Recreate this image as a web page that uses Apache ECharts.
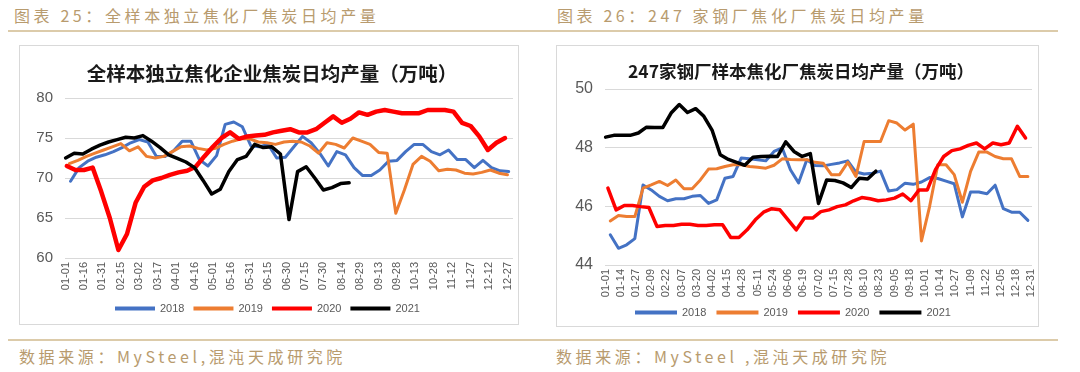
<!DOCTYPE html>
<html>
<head>
<meta charset="utf-8">
<script src="https://cdn.jsdelivr.net/npm/echarts@6/dist/echarts.min.js"></script>
<style>
  html, body { margin: 0; padding: 0; background: #fff; }
  #page { position: relative; width: 1080px; height: 372px; overflow: hidden; }
  .cap { position: absolute; font-family: "Noto Sans CJK SC", sans-serif; color: #B89B6E; font-size: 16px; letter-spacing: 3.6px; white-space: nowrap; line-height: 20px; }
  .rule { position: absolute; height: 2px; background: #DCCBAA; }
  .box { position: absolute; border: 1px solid #D9D9D9; box-sizing: border-box; background: #fff; }
  #chart { position: absolute; left: 0; top: 0; width: 1080px; height: 372px; }
</style>
</head>
<body>
<div id="page">
  <div class="cap" style="left:14px;top:5px;">图表 25：全样本独立焦化厂焦炭日均产量</div>
  <div class="cap" style="left:557px;top:5px;">图表 26：247 家钢厂焦化厂焦炭日均产量</div>
  <div class="rule" style="left:8px;top:30px;width:1050px;"></div>
  <div class="box" style="left:19px;top:45px;width:500px;height:280px;"></div>
  <div class="box" style="left:556px;top:45px;width:483px;height:282px;"></div>
  <div class="rule" style="left:8px;top:339px;width:1050px;"></div>
  <div class="cap" style="left:19px;top:346px;">数据来源：MySteel,混沌天成研究院</div>
  <div class="cap" style="left:556px;top:346px;">数据来源：MySteel ,混沌天成研究院</div>
  <div id="chart"></div>
</div>
<script>
// ---------- data ----------
const seriesNames = ['2018', '2019', '2020', '2021'];
const seriesColors = ['#4472C4', '#ED7D31', '#FF0000', '#000000'];

// Left chart: 全样本独立焦化企业焦炭日均产量（万吨）, weekly observations
const leftStart = ['01-05', '01-04', '01-02', '01-01'];
const left2018 = [69.6, 71.3, 72.1, 72.6, 72.9, 73.3, 73.8, 74.4, 74.8, 74.5,
  72.7, 72.7, 73.4, 74.6, 74.6, 72.3, 71.5, 72.8, 76.7, 77.0,
  76.4, 74.0, 73.9, 74.2, 72.5, 72.6, 73.9, 75.2, 74.4, 73.1,
  71.5, 73.3, 72.9, 71.3, 70.3, 70.3, 71.0, 72.1, 72.2, 73.3,
  74.2, 74.2, 73.3, 72.9, 73.5, 72.3, 72.3, 71.3, 72.2, 71.3,
  70.9, 70.8];
const left2019 = [71.8, 72.2, 72.7, 73.1, 73.5, 73.9, 74.3, 73.4, 73.9, 72.7,
  72.5, 72.7, 73.3, 73.9, 74.0, 73.7, 73.5, 73.7, 74.2, 74.6,
  74.9, 74.9, 74.5, 74.4, 74.2, 74.5, 74.6, 74.5, 74.0, 73.1,
  74.4, 74.2, 73.75, 75.0, 74.6, 74.2, 73.2, 73.1, 65.6, 68.5,
  71.7, 72.7, 72.1, 70.9, 71.1, 71.0, 70.6, 70.5, 70.7, 71.0,
  70.6, 70.4];
const left2020 = [71.5, 71.0, 71.0, 71.3, 68.3, 65.0, 61.0, 63.0, 66.9, 68.9,
  69.7, 70.0, 70.4, 70.7, 70.9, 71.4, 72.7, 73.9, 75.0, 75.7,
  74.9, 75.2, 75.3, 75.4, 75.7, 75.9, 76.1, 75.7, 75.7, 76.1,
  76.9, 77.7, 76.9, 77.4, 78.2, 77.9, 78.3, 78.5, 78.3, 78.1,
  78.1, 78.1, 78.5, 78.5, 78.5, 78.3, 76.9, 76.5, 75.2, 73.5,
  74.4, 75.0];
const left2021 = [72.5, 73.1, 73.0, 73.6, 74.1, 74.5, 74.8, 75.1, 75.0, 75.3,
  74.6, 73.8, 72.9, 72.45, 72.0, 71.3, 69.7, 68.0, 68.6, 70.8,
  72.3, 72.7, 74.2, 73.8, 73.9, 73.0, 64.8, 70.8, 71.4, 70.0,
  68.5, 68.8, 69.3, 69.4];

// Right chart: 247家钢厂样本焦化厂焦炭日均产量（万吨）, weekly observations
const rightStart = ['01-05', '01-05', '01-03', '01-01'];
const right2018 = [45.03, 44.57, 44.69, 44.9, 46.73, 46.56, 46.34, 46.19, 46.26, 46.26,
  46.34, 46.37, 46.1, 46.22, 46.96, 47.02, 47.65, 47.62, 47.59, 47.55,
  47.87, 47.99, 47.25, 46.8, 47.59, 47.39, 47.38, 47.43, 47.48, 47.55,
  47.17, 47.1, 47.13, 47.2, 46.52, 46.57, 46.79, 46.75, 46.83, 46.98,
  46.95, 46.86, 46.77, 45.64, 46.49, 46.49, 46.43, 46.72, 45.92, 45.8,
  45.8, 45.52];
const right2019 = [45.5, 45.69, 45.65, 45.65, 46.62, 46.73, 46.85, 46.71, 46.9, 46.6,
  46.6, 46.9, 47.27, 47.28, 47.36, 47.42, 47.42, 47.36, 47.33, 47.3,
  47.4, 47.62, 47.6, 47.59, 47.59, 47.5, 47.47, 47.08, 47.08, 47.5,
  47.02, 48.21, 48.21, 48.21, 48.92, 48.84, 48.6, 48.8, 44.82, 46.0,
  47.42, 47.42, 47.08, 46.14, 47.19, 47.85, 47.85, 47.7, 47.62, 47.62,
  47.02, 47.02];
const right2020 = [46.62, 45.88, 46.03, 46.03, 45.99, 45.96, 45.31, 45.35, 45.35, 45.39,
  45.39, 45.35, 45.35, 45.37, 45.37, 44.94, 44.94, 45.2, 45.54, 45.8,
  45.92, 45.88, 45.54, 45.2, 45.6, 45.6, 45.82, 45.88, 45.99, 46.05,
  46.19, 46.3, 46.26, 46.19, 46.22, 46.28, 46.42, 46.19, 46.56, 46.56,
  47.25, 47.7, 47.9, 47.96, 48.08, 48.16, 47.96, 48.16, 48.1, 48.16,
  48.73, 48.33];
const right2021 = [48.36, 48.42, 48.42, 48.42, 48.5, 48.7, 48.69, 48.69, 49.18, 49.47,
  49.2, 49.33, 49.07, 48.6, 47.76, 47.6, 47.5, 47.4, 47.67, 47.7,
  47.71, 47.7, 48.2, 47.87, 47.7, 47.8, 46.1, 46.9, 46.88, 46.8,
  46.64, 46.96, 46.93, 47.2];

const leftTitle = '全样本独立焦化企业焦炭日均产量（万吨）';
const rightTitle = '247家钢厂样本焦化厂焦炭日均产量（万吨）';

// day-of-year category labels (MM-DD)
const monthLen = [31, 28, 31, 30, 31, 30, 31, 31, 30, 31, 30, 31];
const dayLabels = [];
monthLen.forEach((n, m) => {
  for (let d = 1; d <= n; d++) {
    dayLabels.push(String(m + 1).padStart(2, '0') + '-' + String(d).padStart(2, '0'));
  }
});

function weekly(start, vals) {
  const s = dayLabels.indexOf(start);
  return vals.map((v, i) => [s + 7 * i, v]);
}

// ---------- chart ----------
const FONT = '"Liberation Sans", "Noto Sans", sans-serif';
const CJK = '"Noto Sans CJK SC", sans-serif';
const leftData = [left2018, left2019, left2020, left2021];
const rightData = [right2018, right2019, right2020, right2021];
const leftWidths = [3, 3, 4.5, 3.5];
const rightWidths = [3, 3, 3.5, 3.5];

function xAxisCfg(gridIndex, interval) {
  return {
    type: 'category', gridIndex, data: dayLabels, boundaryGap: true,
    axisLine: { show: false }, axisTick: { show: false },
    axisLabel: { interval, rotate: 90, fontSize: 11, color: '#595959', margin: 4, fontFamily: FONT }
  };
}
function yAxisCfg(gridIndex, min, max, interval, fs) {
  return {
    type: 'value', gridIndex, min, max, interval,
    axisLine: { show: false }, axisTick: { show: false },
    axisLabel: { fontSize: fs, color: '#595959', margin: 12, fontFamily: FONT },
    splitLine: { lineStyle: { color: '#D9D9D9', width: 1 } }
  };
}

const series = [];
seriesNames.forEach((name, i) => {
  series.push({
    name, type: 'line', xAxisIndex: 0, yAxisIndex: 0,
    data: weekly(leftStart[i], leftData[i]),
    showSymbol: false, symbol: 'none',
    lineStyle: { color: seriesColors[i], width: leftWidths[i], join: 'round', cap: 'round' },
    itemStyle: { color: seriesColors[i] }
  });
});
seriesNames.forEach((name, i) => {
  series.push({
    name, type: 'line', xAxisIndex: 1, yAxisIndex: 1,
    data: weekly(rightStart[i], rightData[i]),
    showSymbol: false, symbol: 'none',
    lineStyle: { color: seriesColors[i], width: rightWidths[i], join: 'round', cap: 'round' },
    itemStyle: { color: seriesColors[i] }
  });
});

const chart = echarts.init(document.getElementById('chart'), null, { renderer: 'canvas' });
chart.setOption({
  animation: false,
  backgroundColor: 'transparent',
  title: [
    { text: leftTitle, left: 272, top: 64, textAlign: 'center', padding: 0,
      textStyle: { fontFamily: CJK, fontSize: 19.5, fontWeight: 'bold', color: '#1a1a1a' } },
    { text: rightTitle, left: 801, top: 63, textAlign: 'center', padding: 0,
      textStyle: { fontFamily: CJK, fontSize: 17.5, fontWeight: 'bold', color: '#1a1a1a' } }
  ],
  legend: [
    { data: seriesNames, left: 115, top: 303, padding: 0, icon: 'rect', itemWidth: 40, itemHeight: 4,
      itemGap: 9, textStyle: { fontSize: 11, color: '#595959', fontFamily: FONT } },
    { data: seriesNames, left: 635, top: 307, padding: 0, icon: 'rect', itemWidth: 42, itemHeight: 4,
      itemGap: 10, textStyle: { fontSize: 11, color: '#595959', fontFamily: FONT } }
  ],
  grid: [
    { left: 65, top: 98, width: 448, height: 160 },
    { left: 605, top: 89, width: 427, height: 176 }
  ],
  xAxis: [xAxisCfg(0, 14), xAxisCfg(1, 12)],
  yAxis: [yAxisCfg(0, 60, 80, 5, 15), yAxisCfg(1, 44, 50, 2, 16)],
  series
});
</script>
</body>
</html>
